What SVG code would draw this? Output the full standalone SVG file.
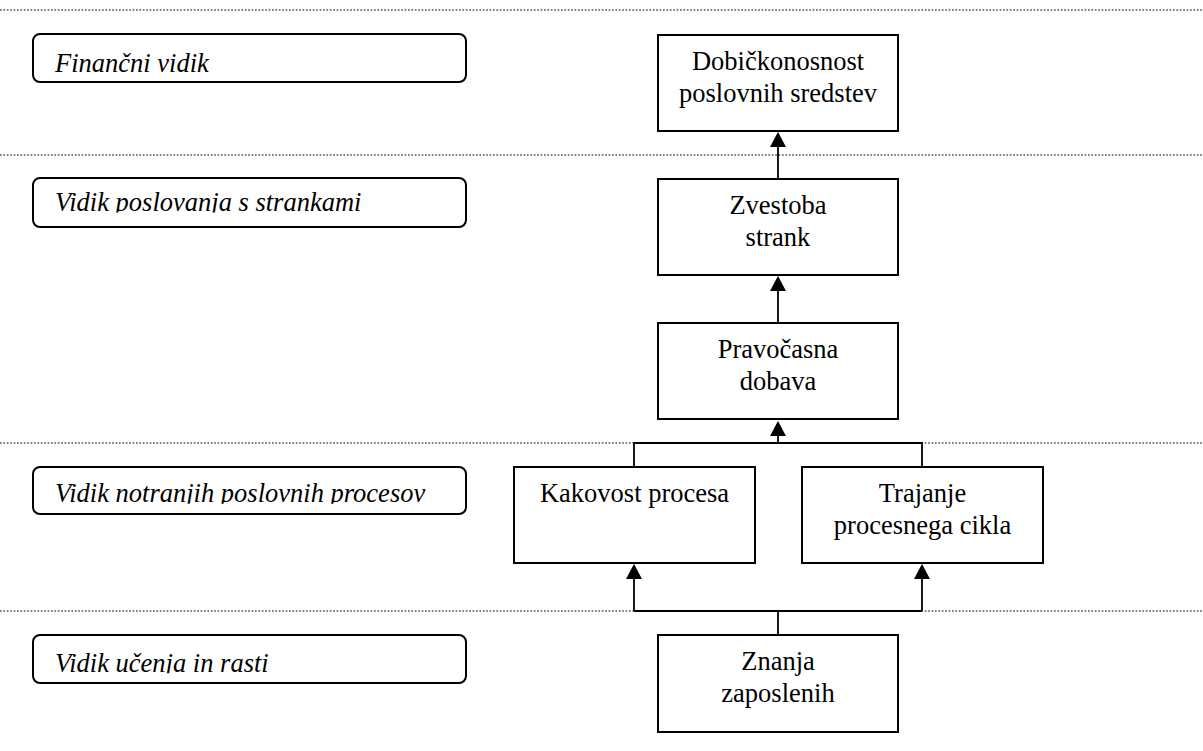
<svg xmlns="http://www.w3.org/2000/svg" width="1203" height="751" viewBox="0 0 1203 751">
  <style>
    .sep { stroke: #000; stroke-width: 1; stroke-dasharray: 1.7 1.7; fill: none; }
    .lane { fill: #fff; stroke: #000; stroke-width: 2; }
    .lane-text { font-family: "Liberation Serif", "Times New Roman", serif; font-style: italic; font-size: 26.5px; fill: #000; }
    .node { fill: #fff; stroke: #000; stroke-width: 2; }
    .node-text { font-family: "Liberation Serif", "Times New Roman", serif; font-size: 26.5px; fill: #000; text-anchor: middle; }
    .conn { stroke: #000; stroke-width: 1.8; fill: none; }
  </style>
  <defs>
    <marker id="arrow" markerUnits="userSpaceOnUse" markerWidth="16" markerHeight="16" refX="0" refY="8" orient="auto" viewBox="0 0 16 16">
      <path d="M0,0 L15,8 L0,16 Z" fill="#000"/>
    </marker>
    <clipPath id="clip-lane1"><rect x="34" y="35" width="431" height="39"/></clipPath>
    <clipPath id="clip-lane2"><rect x="34" y="179" width="431" height="33.5"/></clipPath>
    <clipPath id="clip-lane3"><rect x="34" y="468" width="431" height="35.8"/></clipPath>
    <clipPath id="clip-lane4"><rect x="34" y="636" width="431" height="37.2"/></clipPath>
  </defs>

  <rect width="1203" height="751" fill="#fff"/>

  <!-- perspective separators -->
  <g id="separators">
    <line class="sep" x1="0" y1="10" x2="1203" y2="10"/>
    <line class="sep" x1="0" y1="155" x2="1203" y2="155"/>
    <line class="sep" x1="0" y1="443" x2="1203" y2="443"/>
    <line class="sep" x1="0" y1="611" x2="1203" y2="611"/>
  </g>

  <!-- perspective labels -->
  <g id="lane-financial">
    <rect class="lane" x="33" y="34" width="433" height="48" rx="7"/>
    <text class="lane-text" x="55" y="72" clip-path="url(#clip-lane1)">Finančni vidik</text>
  </g>
  <g id="lane-customer">
    <rect class="lane" x="33" y="178" width="433" height="49" rx="7"/>
    <text class="lane-text" x="55" y="211" clip-path="url(#clip-lane2)">Vidik poslovanja s strankami</text>
  </g>
  <g id="lane-internal">
    <rect class="lane" x="33" y="467" width="433" height="47" rx="7"/>
    <text class="lane-text" x="55" y="502.3" clip-path="url(#clip-lane3)">Vidik notranjih poslovnih procesov</text>
  </g>
  <g id="lane-learning">
    <rect class="lane" x="33" y="635" width="433" height="48" rx="7"/>
    <text class="lane-text" x="55" y="671.7" clip-path="url(#clip-lane4)">Vidik učenja in rasti</text>
  </g>

  <!-- connectors -->
  <g id="connectors">
    <line class="conn" x1="778" y1="179" x2="778" y2="147" marker-end="url(#arrow)"/>
    <line class="conn" x1="778" y1="323" x2="778" y2="291" marker-end="url(#arrow)"/>
    <polyline class="conn" points="634,467 634,443 922,443 922,467"/>
    <line class="conn" x1="778" y1="443" x2="778" y2="436" marker-end="url(#arrow)"/>
    <line class="conn" x1="778" y1="635" x2="778" y2="611"/>
    <line class="conn" x1="634" y1="611" x2="922" y2="611"/>
    <line class="conn" x1="634" y1="611" x2="634" y2="579" marker-end="url(#arrow)"/>
    <line class="conn" x1="922" y1="611" x2="922" y2="579" marker-end="url(#arrow)"/>
  </g>

  <!-- measures -->
  <g id="node-roa">
    <rect class="node" x="658" y="35" width="240" height="96"/>
    <text class="node-text" x="778" y="70">Dobičkonosnost</text>
    <text class="node-text" x="778" y="102">poslovnih sredstev</text>
  </g>
  <g id="node-loyalty">
    <rect class="node" x="658" y="179" width="240" height="96"/>
    <text class="node-text" x="778" y="214">Zvestoba</text>
    <text class="node-text" x="778" y="246">strank</text>
  </g>
  <g id="node-delivery">
    <rect class="node" x="658" y="323" width="240" height="96"/>
    <text class="node-text" x="778" y="358">Pravočasna</text>
    <text class="node-text" x="778" y="390">dobava</text>
  </g>
  <g id="node-quality">
    <rect class="node" x="514" y="467" width="241" height="96"/>
    <text class="node-text" x="634.5" y="502">Kakovost procesa</text>
  </g>
  <g id="node-cycle">
    <rect class="node" x="802" y="467" width="241" height="96"/>
    <text class="node-text" x="922.5" y="502">Trajanje</text>
    <text class="node-text" x="922.5" y="534">procesnega cikla</text>
  </g>
  <g id="node-skills">
    <rect class="node" x="658" y="635" width="240" height="97"/>
    <text class="node-text" x="778" y="670">Znanja</text>
    <text class="node-text" x="778" y="702">zaposlenih</text>
  </g>
</svg>
